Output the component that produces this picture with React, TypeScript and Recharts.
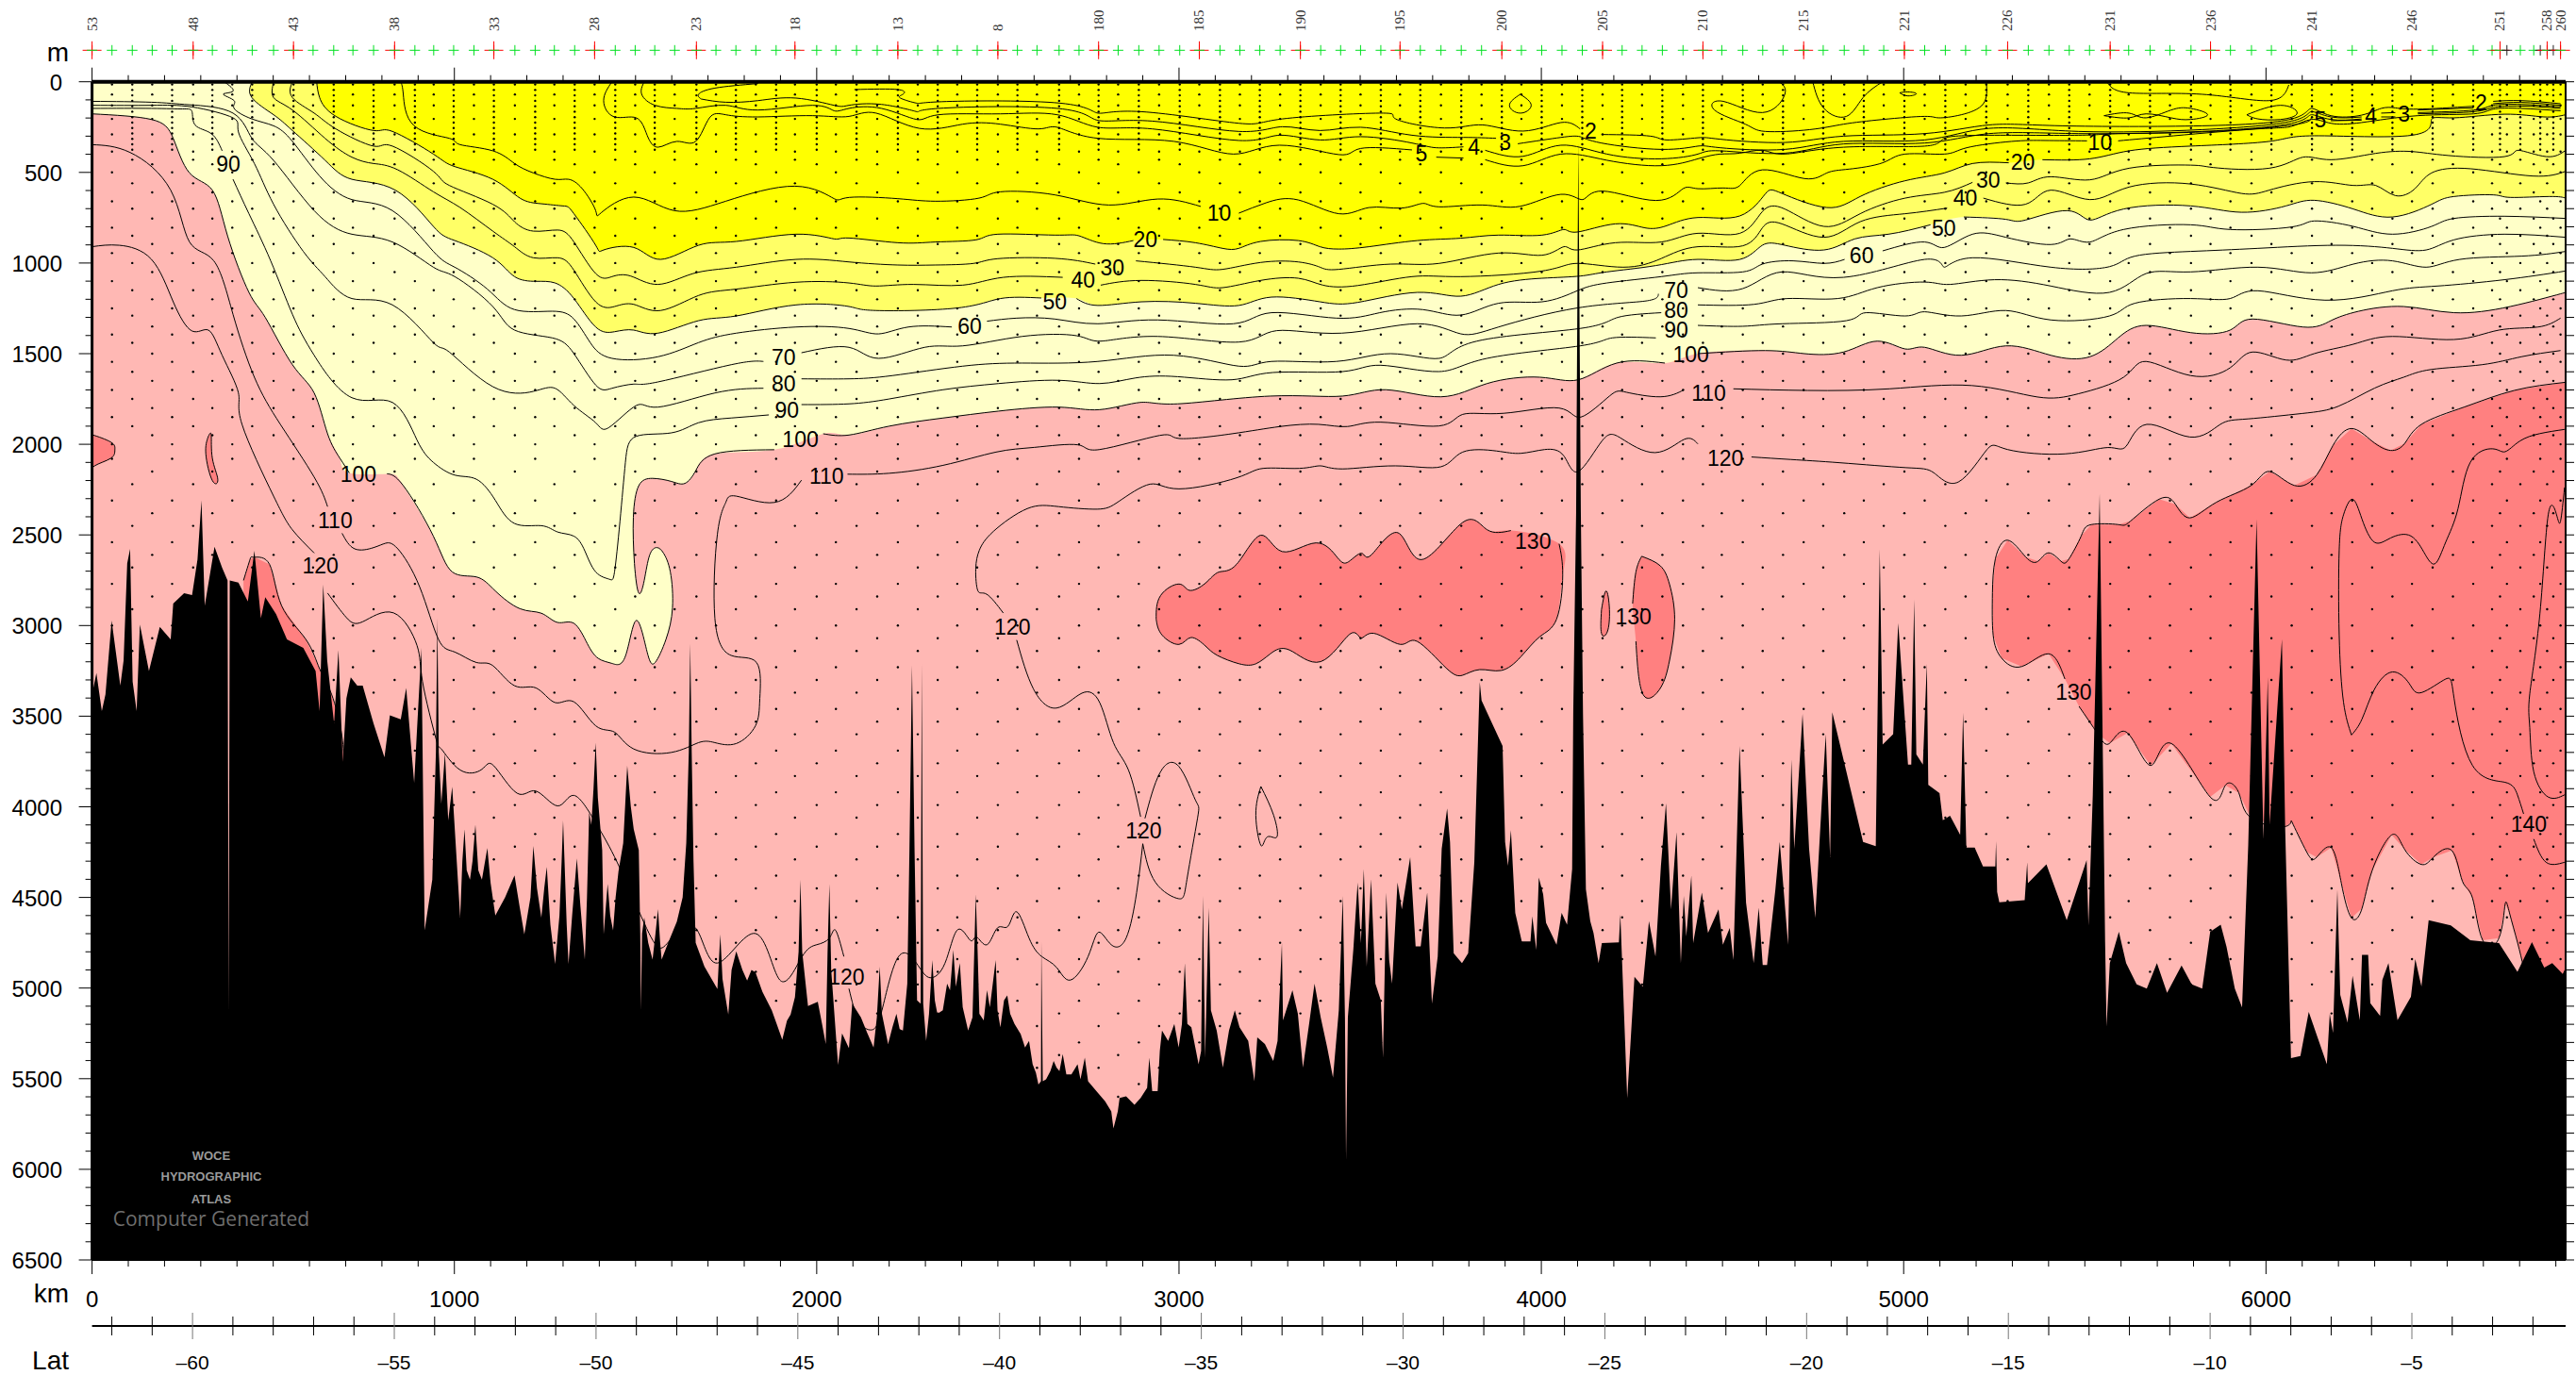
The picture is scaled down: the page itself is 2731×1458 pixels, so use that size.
import React from 'react';
import { ComposedChart, Area, Line, Scatter, XAxis, YAxis } from 'recharts';

type Pt = [number, number | null];

const KM_MAX = 6827;
const DEPTH_MAX = 6500;
const BASE_FONT = 'Liberation Sans';

const PINK = '#FFB8B4';
const SALMON = '#FF8080';
const PALE = '#FFFFC8';
const MEDIUM = '#FFFF66';
const BRIGHT = '#FFFF00';

const kmTicks = [0,100,200,300,400,500,600,700,800,900,1000,1100,1200,1300,1400,1500,1600,1700,1800,1900,2000,2100,2200,2300,2400,2500,2600,2700,2800,2900,3000,3100,3200,3300,3400,3500,3600,3700,3800,3900,4000,4100,4200,4300,4400,4500,4600,4700,4800,4900,5000,5100,5200,5300,5400,5500,5600,5700,5800,5900,6000,6100,6200,6300,6400,6500,6600,6700,6800];
const depthTicks = [0,100,200,300,400,500,600,700,800,900,1000,1100,1200,1300,1400,1500,1600,1700,1800,1900,2000,2100,2200,2300,2400,2500,2600,2700,2800,2900,3000,3100,3200,3300,3400,3500,3600,3700,3800,3900,4000,4100,4200,4300,4400,4500,4600,4700,4800,4900,5000,5100,5200,5300,5400,5500,5600,5700,5800,5900,6000,6100,6200,6300,6400,6500];
const latTicks = [-62,-61,-60,-59,-58,-57,-56,-55,-54,-53,-52,-51,-50,-49,-48,-47,-46,-45,-44,-43,-42,-41,-40,-39,-38,-37,-36,-35,-34,-33,-32,-31,-30,-29,-28,-27,-26,-25,-24,-23,-22,-21,-20,-19,-18,-17,-16,-15,-14,-13,-12,-11,-10,-9,-8,-7,-6,-5,-4,-3,-2];

const stationKm = [0,55,111,166,221,279,332,387,442,501,556,610,667,720,777,835,891,943,998,1054,1109,1167,1223,1276,1332,1387,1444,1499,1553,1608,1668,1722,1777,1832,1888,1940,2000,2053,2110,2167,2224,2279,2334,2388,2443,2500,2554,2608,2669,2724,2778,2832,2889,2945,3002,3056,3113,3168,3223,3279,3335,3391,3446,3501,3557,3610,3666,3723,3779,3835,3891,3945,4001,4057,4113,4169,4223,4278,4334,4391,4446,4498,4556,4611,4667,4724,4778,4836,4890,4945,5002,5058,5115,5171,5228,5287,5344,5401,5457,5513,5570,5621,5680,5735,5793,5847,5902,5960,6015,6071,6127,6181,6238,6293,6349,6403,6460,6516,6572,6624,6646,6665,6702,6739,6757,6776,6793,6813];
const stationLabels: Record<number, string> = {0:'53',279:'48',556:'43',835:'38',1109:'33',1387:'28',1668:'23',1940:'18',2224:'13',2500:'8',2778:'180',3056:'185',3335:'190',3610:'195',3891:'200',4169:'205',4446:'210',4724:'215',5002:'221',5287:'226',5570:'231',5847:'236',6127:'241',6403:'246',6646:'251',6776:'258',6813:'260'};
const blackStations = [6665, 6757, 6793];

// bottle depths, staggered between neighbouring stations
const shallowA = [15,45,75,105,135,165,195,225,255,285,315,345,375];
const shallowB = [15,70,130,205,290,385];
const midA = [455,610,755,895,1050,1200,1350,1500,1650,1800,1950];
const midB = [500,660,805,945,1100,1250,1395,1545,1700,1850,2000];
const midC = [430,560,700,850,1000,1150,1290,1440,1600,1750,1900];
const deepA = [2150,2380,2610,2840,3070,3300,3530,3760,3990,4220,4450,4680,4910,5140,5370,5600];
const deepB = [2080,2310,2540,2770,3000,3230,3460,3690,3920,4150,4380,4610,4840,5070,5300,5530];
const deepC = [2220,2450,2680,2910,3140,3370,3600,3830,4060,4290,4520,4750,4980,5210,5440,5670];

const bathymetry: Pt[] = [[0,3379],[12,3262],[27,3472],[37,3379],[54,2972],[78,3332],[87,3193],[97,2658],[105,2577],[112,3309],[123,3472],[132,2995],[157,3251],[187,3007],[217,3076],[224,2879],[254,2821],[276,2832],[291,2635],[302,2309],[311,2890],[338,2565],[359,2681],[374,2751],[377,5122],[380,2751],[404,2763],[430,2867],[448,2588],[466,2960],[478,2844],[508,2937],[538,3076],[583,3123],[617,3251],[628,3472],[638,2774],[649,3193],[668,3541],[680,3135],[692,3751],[702,3402],[714,3286],[732,3332],[747,3332],[777,3541],[807,3727],[822,3495],[852,3518],[867,3344],[889,3867],[909,3123],[918,4681],[939,4402],[949,3700],[953,2960],[957,3700],[964,3983],[974,3704],[983,4076],[994,3890],[1016,4611],[1022,4300],[1028,4123],[1034,4350],[1043,4402],[1050,4300],[1058,4099],[1066,4350],[1076,4402],[1083,4320],[1091,4227],[1100,4420],[1113,4599],[1140,4500],[1166,4378],[1180,4550],[1193,4704],[1210,4500],[1218,4216],[1228,4450],[1240,4611],[1248,4450],[1255,4332],[1265,4650],[1278,4867],[1290,4600],[1296,4300],[1300,4076],[1304,4300],[1310,4650],[1315,4867],[1325,4600],[1338,4285],[1348,4550],[1360,4843],[1366,4500],[1372,4030],[1378,4100],[1384,3900],[1390,3646],[1396,3950],[1408,4239],[1412,4704],[1423,4425],[1430,4600],[1438,4681],[1445,4500],[1453,4355],[1466,4200],[1477,3774],[1487,4000],[1495,4123],[1509,4239],[1513,4700],[1515,5122],[1518,4700],[1524,4611],[1535,4750],[1547,4843],[1555,4700],[1562,4565],[1568,4750],[1572,4843],[1590,4750],[1614,4634],[1630,4500],[1640,4200],[1647,3700],[1651,3100],[1655,3700],[1660,4300],[1666,4750],[1690,4880],[1726,5006],[1730,4850],[1734,4704],[1740,4950],[1756,5146],[1765,4900],[1778,4797],[1795,4900],[1808,4959],[1820,4900],[1831,4913],[1850,5020],[1876,5122],[1890,5200],[1905,5285],[1918,5180],[1928,5146],[1940,5050],[1950,4800],[1955,4402],[1960,4800],[1976,5099],[2003,5076],[2015,5200],[2025,5308],[2030,4800],[2035,4425],[2040,4900],[2059,5424],[2070,5250],[2089,5332],[2098,5086],[2122,5161],[2140,5250],[2157,5328],[2166,5161],[2174,4882],[2180,5142],[2197,5309],[2209,5216],[2220,5142],[2229,5226],[2238,5235],[2250,4975],[2256,4232],[2263,3219],[2270,4232],[2277,5068],[2287,5086],[2290,3210],[2294,5086],[2302,5291],[2310,5142],[2319,4845],[2326,5068],[2333,5142],[2348,5123],[2360,4975],[2368,5012],[2377,4789],[2384,4993],[2395,4863],[2403,5105],[2418,5235],[2430,5161],[2435,4789],[2439,4482],[2444,4789],[2449,5142],[2461,5179],[2470,5012],[2478,5105],[2494,4845],[2499,5123],[2507,5216],[2517,5068],[2526,5040],[2534,5142],[2546,5198],[2563,5254],[2575,5328],[2586,5291],[2596,5421],[2605,5467],[2612,5532],[2619,5514],[2620,4743],[2624,5514],[2633,5504],[2645,5458],[2654,5402],[2662,5439],[2670,5458],[2679,5365],[2689,5476],[2703,5476],[2720,5421],[2728,5504],[2740,5384],[2749,5514],[2772,5569],[2796,5625],[2813,5681],[2819,5774],[2831,5681],[2836,5607],[2854,5597],[2877,5644],[2894,5607],[2912,5551],[2918,5384],[2926,5569],[2941,5569],[2947,5346],[2953,5235],[2970,5291],[2987,5198],[2999,5328],[3008,5198],[3016,4863],[3023,5198],[3034,5216],[3045,5328],[3054,5421],[3061,5346],[3066,4492],[3072,5384],[3082,4557],[3088,5123],[3104,5235],[3121,5439],[3138,5235],[3154,5123],[3167,5216],[3191,5291],[3208,5514],[3216,5272],[3237,5309],[3260,5402],[3272,5291],[3284,4752],[3287,5179],[3313,5012],[3328,5142],[3342,5439],[3359,5198],[3374,4975],[3391,5161],[3409,5328],[3425,5495],[3441,5123],[3452,4492],[3458,5161],[3461,5945],[3466,5161],[3481,4789],[3493,4417],[3502,4752],[3510,4343],[3518,4882],[3530,4399],[3542,4975],[3557,5068],[3563,5384],[3572,4473],[3580,4845],[3588,4975],[3603,4417],[3615,4566],[3638,4278],[3653,4770],[3667,4770],[3685,4473],[3698,5086],[3714,4826],[3725,4232],[3740,4009],[3748,4194],[3758,4808],[3781,4863],[3798,4808],[3815,4306],[3830,3312],[3835,3414],[3893,3665],[3900,4194],[3908,4325],[3916,4129],[3928,4585],[3946,4743],[3970,4743],[3975,4603],[3986,4789],[3993,4390],[4005,4482],[4013,4640],[4042,4761],[4056,4585],[4071,4650],[4085,4343],[4088,3488],[4096,2374],[4102,330],[4109,2374],[4115,3488],[4123,4455],[4135,4631],[4144,4696],[4158,4863],[4167,4752],[4214,4748],[4218,4594],[4237,5607],[4257,4938],[4280,4993],[4297,4631],[4315,4826],[4330,4325],[4344,3981],[4358,4566],[4373,4139],[4385,4863],[4393,4492],[4400,4715],[4414,4380],[4419,4752],[4443,4473],[4460,4696],[4489,4566],[4501,4761],[4520,4668],[4530,4845],[4547,3665],[4565,4529],[4586,4863],[4600,4557],[4611,4873],[4623,4873],[4646,4455],[4658,4194],[4681,4761],[4690,3739],[4698,4232],[4721,3488],[4739,4232],[4756,4612],[4774,3971],[4785,3600],[4797,4278],[4803,3479],[4888,4194],[4923,4217],[4934,2578],[4942,3656],[4971,3600],[4985,2987],[5012,3767],[5021,3767],[5029,2857],[5035,3711],[5053,3767],[5064,3210],[5068,3879],[5099,3925],[5108,4074],[5128,4050],[5156,4155],[5164,3481],[5173,4225],[5196,4225],[5219,4329],[5253,4329],[5255,4190],[5258,4469],[5264,4527],[5334,4515],[5341,4306],[5343,4422],[5394,4318],[5450,4626],[5505,4294],[5510,4654],[5522,3934],[5541,2273],[5556,4747],[5560,5212],[5569,4863],[5594,4689],[5614,4863],[5643,4980],[5671,5003],[5699,4863],[5727,5026],[5767,4875],[5795,4980],[5824,5003],[5846,4689],[5875,4650],[5891,4771],[5914,5003],[5934,5107],[5951,4213],[5974,2413],[5993,4178],[6005,3284],[6010,4097],[6044,3075],[6053,4120],[6069,5386],[6095,5375],[6118,5131],[6168,5421],[6176,5142],[6185,5247],[6197,4457],[6205,5038],[6225,5189],[6239,4933],[6259,5177],[6265,4817],[6282,4817],[6288,5084],[6315,5154],[6321,4956],[6338,4863],[6363,5177],[6400,5049],[6412,4840],[6429,4991],[6449,4626],[6510,4654],[6564,4736],[6643,4752],[6694,4910],[6711,4840],[6734,4747],[6768,4887],[6790,4863],[6819,4922],[6827,4887]];

const c2: Pt[] = [[1838,10],[1719,35],[1674,69],[1681,95],[1700,null],[2104,43],[2224,43],[2238,69],[2231,90],[2276,118],[2358,109],[2672,118],[2776,173],[2896,165],[3165,229],[3285,205],[3554,173],[3598,205],[3733,255],[3838,238],[3950,272],[4054,225],[4107,260],[4136,null],[4166,291],[4301,300],[4346,321],[4432,309],[4494,317],[4672,335],[4834,300],[5058,286],[5236,238],[5437,243],[5823,243],[6071,205],[6125,147],[6179,187],[6264,184],[6318,147],[6357,144],[6419,151],[6573,135],[6600,null],[6627,108],[6705,104],[6813,121]];
const c3: Pt[] = [[1681,95],[1749,113],[1838,104],[1943,90],[2048,130],[2089,130],[2179,125],[2276,165],[2336,147],[2664,147],[2776,213],[2926,217],[3165,274],[3285,248],[3389,269],[3501,251],[3643,295],[3785,307],[3875,312],[3900,null],[3935,342],[4054,307],[4107,303],[4166,338],[4331,373],[4432,355],[4494,364],[4672,373],[4834,329],[5058,321],[5236,257],[5483,274],[5823,264],[6071,217],[6125,165],[6179,194],[6264,194],[6290,null],[6318,173],[6357,170],[6381,null],[6419,156],[6573,144],[6600,null],[6627,121],[6705,114],[6813,130]];
const c4: Pt[] = [[1524,0],[1517,69],[1554,130],[1614,147],[1666,147],[1749,130],[1838,156],[1988,130],[2048,160],[2089,147],[2179,147],[2276,208],[2336,182],[2507,177],[2664,182],[2776,251],[2926,260],[3165,324],[3277,295],[3389,321],[3501,303],[3643,338],[3710,364],[3785,359],[3815,null],[3845,378],[3950,411],[4054,350],[4181,399],[4331,425],[4432,399],[4494,381],[4672,394],[4834,343],[5058,338],[5236,286],[5483,286],[5823,274],[6071,229],[6125,182],[6179,208],[6264,205],[6290,null],[6318,194],[6357,194],[6381,null],[6419,170],[6573,156],[6627,130],[6705,125],[6813,139]];
const c5: Pt[] = [[1435,0],[1412,104],[1442,194],[1502,199],[1532,295],[1562,361],[1614,329],[1666,329],[1704,199],[1749,182],[1838,194],[1988,187],[2089,191],[2164,173],[2283,257],[2403,234],[2507,234],[2612,260],[2664,251],[2776,312],[2986,329],[3150,399],[3277,350],[3441,402],[3501,368],[3643,376],[3669,null],[3710,416],[3785,421],[3815,null],[3845,430],[3950,463],[4054,399],[4181,433],[4331,463],[4432,425],[4494,399],[4548,394],[4610,378],[4672,399],[4834,361],[5058,355],[5112,312],[5236,295],[5483,295],[5592,286],[5823,277],[6071,239],[6125,199],[6150,null],[6179,215],[6264,212],[6290,null],[6419,177],[6573,165],[6627,142],[6705,134],[6813,147]];
const c10: Pt[] = [[852,0],[859,69],[889,243],[986,312],[1016,347],[1106,381],[1166,451],[1218,503],[1278,538],[1315,538],[1353,590],[1390,711],[1405,723],[1495,636],[1607,711],[1749,659],[1940,576],[2048,645],[2090,638],[2224,645],[2328,659],[2448,642],[2507,607],[2657,624],[2806,680],[2941,647],[3060,688],[3110,null],[3165,725],[3240,668],[3329,652],[3441,728],[3524,694],[3613,697],[3673,671],[3718,690],[3838,680],[3942,687],[4054,621],[4114,650],[4169,603],[4316,655],[4391,590],[4432,590],[4502,586],[4548,572],[4610,486],[4726,534],[4788,503],[4849,482],[4942,447],[5004,399],[5112,399],[5174,364],[5298,329],[5390,324],[5506,326],[5545,null],[5592,326],[5746,298],[5978,260],[6071,246],[6125,208],[6179,229],[6264,225],[6419,187],[6573,177],[6627,151],[6705,147],[6813,160]];
const c20: Pt[] = [[620,0],[628,87],[673,191],[777,269],[829,274],[942,399],[1001,468],[1106,538],[1181,642],[1240,673],[1300,685],[1330,728],[1390,902],[1412,928],[1495,914],[1569,980],[1674,902],[1778,881],[1943,841],[2048,867],[2089,862],[2224,888],[2328,884],[2440,872],[2500,841],[2657,846],[2724,850],[2791,893],[2874,876],[2910,null],[2956,870],[3045,888],[3120,919],[3165,919],[3225,881],[3329,876],[3389,910],[3441,923],[3524,910],[3658,876],[3778,863],[3882,846],[4002,846],[4062,815],[4099,829],[4204,784],[4286,806],[4346,794],[4432,749],[4548,740],[4618,619],[4664,616],[4788,694],[4880,633],[5004,546],[5112,503],[5190,451],[5290,447],[5330,null],[5383,430],[5514,425],[5622,381],[5792,355],[6009,329],[6133,298],[6403,295],[6457,208],[6519,199],[6658,179],[6767,194],[6827,182]];
const c30: Pt[] = [[553,0],[553,87],[613,173],[673,260],[777,355],[829,355],[942,494],[986,572],[1106,676],[1166,772],[1218,824],[1285,818],[1330,884],[1390,1058],[1435,1075],[1487,1072],[1562,1118],[1659,1058],[1778,1023],[1943,980],[2089,994],[2224,1011],[2328,1011],[2433,1002],[2500,976],[2657,974],[2769,1006],[2816,null],[2881,988],[3045,1023],[3120,1035],[3225,997],[3329,994],[3389,1023],[3441,1035],[3584,1006],[3718,1002],[3882,945],[4002,957],[4062,910],[4099,928],[4204,888],[4331,884],[4432,836],[4548,836],[4610,716],[4672,702],[4780,798],[4880,728],[5004,642],[5112,610],[5190,555],[5233,null],[5282,558],[5344,558],[5406,524],[5514,541],[5622,477],[5792,460],[5854,473],[6009,477],[6102,416],[6179,430],[6303,395],[6403,385],[6504,407],[6658,413],[6697,378],[6774,413],[6827,378]];
const c40: Pt[] = [[501,0],[501,87],[553,156],[643,312],[717,416],[777,451],[844,486],[942,607],[1016,694],[1106,824],[1166,910],[1218,971],[1285,971],[1330,1040],[1390,1214],[1442,1240],[1495,1228],[1569,1262],[1674,1179],[1778,1144],[1943,1106],[2089,1110],[2164,1127],[2268,1118],[2403,1122],[2515,1079],[2679,1079],[2735,null],[2784,1122],[2896,1096],[3045,1118],[3120,1136],[3225,1096],[3329,1084],[3397,1122],[3494,1124],[3643,1075],[3778,1075],[4002,1044],[4099,1002],[4226,1023],[4331,975],[4432,910],[4556,905],[4610,806],[4664,784],[4780,858],[4880,772],[5004,728],[5120,697],[5170,null],[5220,642],[5336,676],[5406,598],[5514,650],[5622,581],[5792,564],[5932,616],[6009,598],[6133,551],[6241,572],[6303,572],[6357,628],[6411,590],[6457,503],[6565,480],[6736,520],[6827,494]];
const c50: Pt[] = [[442,0],[441,87],[501,182],[553,269],[643,433],[717,538],[837,598],[942,798],[1001,876],[1106,971],[1166,1075],[1225,1101],[1278,1110],[1330,1196],[1390,1353],[1442,1379],[1495,1370],[1562,1387],[1674,1318],[1778,1292],[1943,1231],[2089,1240],[2164,1262],[2388,1248],[2507,1196],[2620,1193],[2657,null],[2717,1196],[2776,1234],[2896,1214],[3045,1222],[3165,1234],[3255,1188],[3389,1214],[3494,1217],[3658,1162],[3778,1183],[3882,1118],[4002,1084],[4107,1072],[4181,1049],[4316,1014],[4432,980],[4548,980],[4610,902],[4672,902],[4780,928],[4865,867],[4958,841],[5074,789],[5111,null],[5166,746],[5282,759],[5336,763],[5452,711],[5514,763],[5607,702],[5792,685],[5932,720],[6055,685],[6133,654],[6241,702],[6349,746],[6457,676],[6519,633],[6627,624],[6674,638],[6782,633],[6827,642]];
const c60: Pt[] = [[365,0],[389,52],[362,69],[392,104],[392,147],[441,205],[501,243],[553,329],[628,520],[717,650],[829,711],[942,936],[1001,1023],[1091,1144],[1166,1257],[1270,1266],[1330,1309],[1375,1439],[1435,1526],[1562,1517],[1674,1439],[1778,1387],[1943,1353],[2089,1361],[2171,1391],[2253,1353],[2373,1353],[2422,null],[2470,1321],[2552,1304],[2657,1309],[2776,1335],[2941,1314],[3150,1335],[3255,1274],[3434,1304],[3554,1274],[3673,1257],[3778,1287],[3882,1222],[4002,1214],[4099,1153],[4181,1110],[4331,1075],[4432,1054],[4556,1049],[4610,1006],[4695,988],[4780,1002],[4837,980],[4884,null],[4942,933],[5058,884],[5112,914],[5190,841],[5282,858],[5406,898],[5460,867],[5514,884],[5607,815],[5792,789],[5901,815],[6071,801],[6133,768],[6241,798],[6349,841],[6457,798],[6519,754],[6658,742],[6827,754]];
const c70: Pt[] = [[0,108],[164,113],[269,127],[389,173],[441,312],[501,434],[613,711],[717,841],[829,884],[942,1023],[1001,1075],[1106,1240],[1166,1370],[1270,1413],[1330,1500],[1390,1673],[1435,1691],[1495,1668],[1562,1656],[1764,1561],[1853,1543],[1909,null],[1958,1495],[2089,1465],[2171,1526],[2298,1465],[2403,1457],[2567,1405],[2717,1401],[2784,1431],[2941,1405],[3165,1436],[3270,1373],[3449,1387],[3658,1335],[3778,1391],[3882,1353],[4099,1248],[4286,1210],[4323,1170],[4372,null],[4432,1136],[4556,1141],[4664,1049],[4834,1079],[5058,980],[5112,1023],[5190,971],[5406,1023],[5568,1020],[5638,962],[5792,936],[5978,919],[6194,902],[6349,919],[6442,928],[6519,872],[6658,841],[6827,858]];
const c80: Pt[] = [[0,130],[164,130],[276,139],[389,199],[404,277],[448,451],[501,676],[583,936],[643,1075],[717,1196],[829,1231],[942,1439],[986,1491],[1106,1682],[1218,1708],[1278,1691],[1330,1786],[1390,1881],[1427,1907],[1502,1786],[1562,1795],[1719,1717],[1853,1691],[1909,null],[1958,1639],[2089,1639],[2209,1621],[2403,1569],[2567,1552],[2776,1543],[2986,1509],[3165,1569],[3255,1543],[3434,1543],[3584,1500],[3718,1526],[3822,1431],[4107,1361],[4211,1300],[4331,1274],[4372,null],[4432,1231],[4587,1228],[4679,1196],[4818,1196],[4927,1136],[5058,1105],[5128,1118],[5251,1092],[5406,1127],[5568,1162],[5669,1058],[5792,1049],[5978,1023],[6125,1054],[6241,1006],[6349,988],[6442,1023],[6535,980],[6705,962],[6827,936]];
const c90: Pt[] = [[0,147],[164,147],[250,150],[276,165],[285,240],[329,286],[359,381],[376,null],[389,538],[433,728],[493,988],[553,1283],[613,1509],[717,1743],[829,1769],[897,1977],[942,2100],[1001,2170],[1061,2193],[1113,2309],[1166,2437],[1240,2449],[1285,2484],[1330,2507],[1360,2588],[1390,2704],[1427,2744],[1442,2704],[1457,2425],[1472,2100],[1502,1956],[1599,1937],[1674,1881],[1764,1855],[1868,1838],[1918,null],[1958,1781],[2089,1777],[2200,1750],[2349,1699],[2502,1665],[2668,1647],[2781,1665],[2880,1634],[2996,1627],[3146,1644],[3259,1604],[3451,1599],[3557,1564],[3717,1599],[3850,1526],[4107,1457],[4196,1413],[4316,1413],[4372,null],[4432,1344],[4556,1349],[4664,1335],[4842,1318],[4896,1274],[5004,1292],[5058,1269],[5159,1292],[5282,1262],[5406,1314],[5568,1292],[5638,1222],[5792,1196],[5901,1196],[5978,1153],[6163,1205],[6349,1153],[6473,1127],[6658,1092],[6827,1044]];
const c100: Pt[] = [[0,177],[164,208],[224,312],[269,503],[332,598],[374,850],[433,1162],[478,1300],[553,1561],[613,1717],[650,1942],[684,2077],[710,2158],[735,null],[814,2163],[859,2228],[942,2507],[994,2704],[1061,2732],[1113,2809],[1181,2907],[1240,2932],[1285,2983],[1330,2988],[1367,3100],[1397,3181],[1435,3209],[1472,3169],[1502,2972],[1532,3146],[1554,3204],[1584,3076],[1602,2902],[1596,2704],[1577,2600],[1559,2570],[1539,2611],[1524,2751],[1509,2821],[1497,2658],[1494,2402],[1509,2228],[1547,2188],[1599,2205],[1636,2216],[1666,2146],[1719,2053],[1883,2030],[1955,null],[2018,1942],[2089,1949],[2200,1900],[2349,1855],[2502,1817],[2668,1795],[2781,1809],[2893,1769],[2996,1777],[3252,1734],[3451,1734],[3571,1699],[3723,1738],[3850,1665],[3996,1630],[4102,1644],[4208,1552],[4341,1552],[4390,null],[4432,1500],[4618,1483],[4726,1500],[4834,1491],[4927,1431],[5004,1474],[5058,1465],[5159,1509],[5282,1457],[5406,1509],[5514,1517],[5592,1413],[5669,1344],[5792,1384],[5901,1370],[5963,1309],[6102,1353],[6179,1318],[6256,1266],[6380,1240],[6519,1274],[6674,1240],[6813,1170],[6827,1165]];
const c110: Pt[] = [[0,347],[105,390],[217,598],[269,884],[336,988],[389,1283],[448,1630],[520,1891],[613,2181],[650,2344],[671,null],[690,2491],[725,2577],[777,2570],[810,2546],[844,2577],[904,2786],[956,3076],[1001,3146],[1061,3204],[1106,3221],[1166,3332],[1225,3344],[1278,3425],[1330,3421],[1390,3553],[1442,3588],[1495,3681],[1599,3700],[1674,3646],[1719,3646],[1778,3651],[1831,3553],[1843,3402],[1834,3204],[1764,3165],[1719,2960],[1726,2495],[1749,2321],[1778,2286],[1883,2321],[1958,2198],[2027,null],[2085,2165],[2200,2160],[2349,2116],[2495,2043],[2601,2017],[2721,2003],[2781,2029],[2947,1951],[3000,1968],[3146,1942],[3279,1902],[3385,1890],[3465,1902],[3557,1878],[3717,1899],[3783,1835],[3896,1829],[4049,1800],[4109,1850],[4188,1734],[4235,1713],[4328,1738],[4394,1699],[4462,null],[4530,1694],[4735,1703],[4961,1694],[5188,1676],[5369,1739],[5483,1721],[5607,1630],[5669,1543],[5792,1621],[5901,1578],[5963,1491],[6055,1535],[6133,1500],[6241,1448],[6349,1405],[6519,1422],[6643,1370],[6751,1353],[6813,1304]];
const c120: Pt[] = [[0,910],[75,902],[164,980],[224,1214],[276,1375],[321,1370],[359,1509],[404,1717],[414,1891],[501,2286],[553,2472],[613,2600],[630,null],[650,2821],[702,2956],[747,2979],[832,2930],[897,3111],[912,3309],[949,3623],[964,3681],[1016,3797],[1076,3793],[1109,3774],[1173,3925],[1225,3913],[1285,3995],[1330,3937],[1390,4088],[1450,4309],[1517,4611],[1562,4774],[1599,4727],[1666,4669],[1726,4862],[1831,4699],[1898,4955],[1958,4832],[2000,4761],[2035,4724],[2052,4681],[2075,4826],[2082,null],[2089,5003],[2116,5179],[2151,5231],[2180,5123],[2226,4826],[2279,4873],[2313,4943],[2354,4863],[2389,4678],[2424,4737],[2441,4718],[2470,4761],[2499,4668],[2528,4659],[2552,4579],[2586,4724],[2621,4826],[2662,4886],[2700,4956],[2749,4826],[2778,4692],[2813,4761],[2854,4724],[2883,4473],[2900,4204],[2901,null],[2894,4055],[2860,3795],[2819,3646],[2782,3429],[2732,3373],[2662,3455],[2598,3349],[2552,3080],[2540,null],[2515,2931],[2469,2827],[2445,2809],[2439,2688],[2449,2584],[2488,2480],[2581,2355],[2668,2344],[2774,2358],[2834,2315],[2920,2220],[3000,2246],[3159,2185],[3232,2133],[3332,2133],[3391,2119],[3451,2136],[3597,2119],[3723,2124],[3783,2043],[3876,2037],[3943,2050],[4009,2029],[4062,2064],[4102,2150],[4168,1980],[4221,1968],[4314,2046],[4394,1973],[4432,1998],[4508,null],[4580,2070],[4689,2084],[4825,2102],[5007,2129],[5083,2157],[5151,2208],[5230,2029],[5287,2029],[5445,2053],[5564,2018],[5614,2011],[5671,1890],[5790,1960],[5874,1890],[5950,1860],[6100,1830],[6200,1790],[6300,1690],[6380,1630],[6457,1587],[6596,1561],[6705,1517],[6813,1483]];
const c120Lobe: Pt[] = [[2900,4204],[2935,4417],[2999,4507],[3022,4399],[3051,4064],[3045,3962],[2999,3776],[2947,3814],[2906,4064]];
const c120Small: Pt[] = [[3226,3888],[3212,4046],[3226,4213],[3243,4167],[3270,4167],[3261,4046],[3226,3888]];

const deepUpper: Pt[] = [[5245,2819],[5253,2633],[5287,2529],[5337,2622],[5371,2645],[5400,2599],[5434,2645],[5456,2633],[5490,2506],[5518,2443],[5592,2443],[5626,2424],[5705,2303],[5750,2331],[5790,2406],[5863,2320],[5959,2227],[6010,2150],[6078,2227],[6140,2169],[6185,2006],[6236,1913],[6293,1983],[6344,2034],[6383,1995],[6429,1890],[6548,1794],[6685,1703],[6827,1658]];
const deepEdge: Pt[] = [[6827,5200],[6711,5200]];
const deepLower: Pt[] = [[6711,4887],[6694,4747],[6672,4585],[6660,4538],[6643,4724],[6598,4736],[6570,4503],[6542,4410],[6513,4241],[6462,4278],[6429,4318],[6383,4236],[6347,4155],[6293,4352],[6265,4561],[6236,4613],[6208,4422],[6180,4225],[6140,4278],[6112,4248],[6072,4085],[6055,4108],[5959,4062],[5925,3923],[5888,3881],[5846,3946],[5739,3651],[5682,3772],[5618,3593],[5569,3649],[5535,3597],[5484,3446],[5469,null],[5445,3295],[5400,3156],[5326,3226],[5270,3179],[5247,3052],[5245,2819]];
const blobMain: Pt[] = [[2937,2965],[2949,2835],[3000,2771],[3029,2806],[3073,2766],[3110,2705],[3159,2662],[3225,2502],[3285,2592],[3378,2544],[3438,2627],[3468,2648],[3504,2601],[3531,2610],[3604,2488],[3670,2636],[3783,2431],[3850,2471],[3916,2476],[3977,null],[4049,2549],[4059,2722],[4042,2965],[3996,3061],[3943,3173],[3889,3248],[3830,3243],[3783,3274],[3737,3234],[3657,3087],[3611,3104],[3538,3043],[3502,3069],[3471,3048],[3391,3199],[3305,3135],[3252,3156],[3212,3211],[3166,3211],[3106,3165],[3073,3113],[3033,3066],[3000,3104],[2953,3052],[2937,2965]];
const blobNarrow: Pt[] = [[4166,2913],[4179,2809],[4188,2913],[4182,3035],[4166,3043],[4166,2913]];
const blobOval: Pt[] = [[4277,2618],[4328,2670],[4354,2774],[4368,2965],[4354,3191],[4328,3347],[4281,3381],[4261,3087],[4258,null],[4252,2879],[4261,2705],[4277,2618]];
const blobWest: Pt[] = [[0,1949],[3,1949],[52,1988],[63,2030],[52,2077],[7,2119],[0,2119],[0,1949]];
const blobThin: Pt[] = [[321,1956],[329,1949],[332,2077],[347,2193],[332,2200],[314,2053],[321,1956]];
const blobRidge: Pt[] = [[418,2751],[436,2635],[448,2623],[490,2663],[523,2890],[590,3076],[628,3239],[661,3379],[688,3588],[695,3751],[643,3751],[418,3751],[418,2751]];

const inner140a: Pt[] = [[6236,3604],[6214,3423],[6202,3051],[6202,2587],[6214,2389],[6239,2303],[6265,2413],[6299,2540],[6344,2517],[6400,2506],[6440,2610],[6468,2657],[6496,2540],[6530,2355],[6564,2099],[6626,2025],[6660,2041],[6700,1983],[6756,1941],[6824,1918]];
const inner140b: Pt[] = [[6236,3604],[6265,3516],[6299,3353],[6349,3256],[6395,3319],[6429,3370],[6496,3295],[6519,3400],[6570,3772],[6660,3865],[6694,3934],[6711,4039],[6725,null],[6739,4178],[6773,4306],[6824,4306]];
const inner140c: Pt[] = [[6824,2238],[6813,2424],[6802,2389],[6779,2389],[6756,2935],[6728,3377],[6728,3563],[6739,3806],[6779,3946],[6824,3934]];

const wiggleA: Pt[] = [[4656,0],[4672,69],[4610,170],[4502,108],[4478,156],[4563,234],[4618,274],[4741,264],[4834,234],[4942,208],[5058,191],[5097,199],[5159,182],[5220,121],[5228,0]];
const wiggleB: Pt[] = [[4749,0],[4780,147],[4842,191],[4888,87],[4942,0]];
const wiggleC: Pt[] = [[5561,0],[5622,61],[5823,69],[6009,104],[6063,17]];
const loopA: Pt[] = [[5553,187],[5622,173],[5669,199],[5738,156],[5792,147],[5839,182],[5792,208],[5738,199],[5669,177],[5622,199],[5553,187]];
const loopB: Pt[] = [[5947,182],[6040,130],[6086,173],[6040,208],[5978,205],[5947,182]];
const loopC: Pt[] = [[3942,69],[3972,130],[3942,173],[3912,130],[3942,69]];
const loopD: Pt[] = [[4989,61],[5012,56],[5035,66],[5012,78],[4989,61]];

const contourLabels: [number, number, string][] = [[376,453,'90'],[735,2165,'100'],[671,2419,'110'],[630,2673,'120'],[1909,1522,'70'],[1909,1667,'80'],[1918,1812,'90'],[1955,1975,'100'],[2027,2174,'110'],[2422,1350,'60'],[2657,1214,'50'],[2735,1096,'40'],[2816,1024,'30'],[2907,870,'20'],[3111,725,'10'],[3669,399,'5'],[3814,362,'4'],[3900,335,'3'],[4136,272,'2'],[4372,1151,'70'],[4372,1259,'80'],[4372,1368,'90'],[4413,1504,'100'],[4462,1721,'110'],[4508,2075,'120'],[4884,960,'60'],[5111,806,'50'],[5170,643,'40'],[5233,544,'30'],[5329,444,'20'],[5542,335,'10'],[6150,208,'5'],[6290,190,'4'],[6381,181,'3'],[6594,118,'2'],[2540,3008,'120'],[2902,4131,'120'],[2082,4938,'120'],[3977,2537,'130'],[4254,2954,'130'],[5469,3370,'130'],[6725,4095,'140']];
const logoLabels: [number, number, string, number, string, string][] = [[329,5948,'WOCE',13,'bold','Liberation Sans'],[329,6063,'HYDROGRAPHIC',13,'bold','Liberation Sans'],[329,6188,'ATLAS',13,'bold','Liberation Sans'],[329,6313,'Computer Generated',21,'normal','Open Sans']];

const toRows = (pts: Pt[]) => pts.map(([km, m]) => ({ km, m }));
const solid = (pts: Pt[]) => toRows(pts.filter((p) => p[1] !== null));

const fills: [Pt[], string, 'linear' | 'natural'][] = [
  [[...deepUpper, ...deepEdge, ...deepLower], SALMON, 'linear'],
  [blobMain, SALMON, 'natural'],
  [blobNarrow, SALMON, 'natural'],
  [blobOval, SALMON, 'natural'],
  [blobWest, SALMON, 'natural'],
  [blobThin, SALMON, 'natural'],
  [blobRidge, SALMON, 'linear'],
  [c100, PALE, 'natural'],
  [c50, MEDIUM, 'natural'],
  [c20, BRIGHT, 'natural'],
];
const contours: Pt[][] = [c2,c3,c4,c5,c10,c20,c30,c40,c50,c60,c70,c80,c90,c100,c110,c120,c120Lobe,c120Small,deepUpper,deepLower,blobMain,blobNarrow,blobOval,blobWest,blobThin,blobRidge.slice(0,10),inner140a,inner140b,inner140c,wiggleA,wiggleB,wiggleC,loopA,loopB,loopC,loopD];

const shallowSets = [shallowA, shallowB];
const midSets = [midA, midB, midC];
const deepSets = [deepA, deepB, deepC];
const bottles = stationKm.flatMap((km, i) =>
  [...shallowSets[i % 2], ...midSets[i % 3], ...deepSets[i % 3]].map((m) => ({ km, m })),
);

const DepthTick = ({ x, y, payload }: any) => {
  const major = payload.value % 500 === 0;
  return (
    <g>
      <path d={`M${x} ${y}H${x - (major ? 14 : 7)}`} stroke="#000" strokeWidth={1} fill="none" />
      {major && (
        <text x={66} y={y + 9} textAnchor="end" fontFamily={BASE_FONT} fontSize={24} fill="#000">
          {payload.value}
        </text>
      )}
    </g>
  );
};
const RightTick = ({ x, y }: any) => <path d={`M${x} ${y}h9`} stroke="#000" strokeWidth={1} fill="none" />;
const KmTick = ({ x, y, payload }: any) => {
  const major = payload.value % 1000 === 0;
  return (
    <g>
      <path d={`M${x} ${y}v${major ? 15 : 7}`} stroke="#000" strokeWidth={1} fill="none" />
      {major && (
        <text x={x} y={y + 50} textAnchor="middle" fontFamily={BASE_FONT} fontSize={24} fill="#000">
          {payload.value}
        </text>
      )}
    </g>
  );
};
const KmTopTick = ({ x, y, payload }: any) => (
  <path d={`M${x} ${y}v${payload.value % 1000 === 0 ? -15 : -7}`} stroke="#000" strokeWidth={1} fill="none" />
);
const LatTick = ({ x, y, payload }: any) => {
  const major = payload.value % 5 === 0;
  const half = major ? 14 : 10;
  return (
    <g>
      <path d={`M${x} ${y - half}v${half * 2}`} stroke={major ? '#777' : '#000'} strokeWidth={1} fill="none" />
      {major && (
        <text x={x} y={y + 46} textAnchor="middle" fontFamily={BASE_FONT} fontSize={21} fill="#000">
          {`\u2013${Math.abs(payload.value)}`}
        </text>
      )}
    </g>
  );
};
const StationTick = ({ x, y, payload }: any) => {
  const label = stationLabels[payload.value];
  const cy = y - 6.7;
  const color = blackStations.includes(payload.value) ? '#222' : '#00E020';
  return (
    <g>
      {label !== undefined && (
        <path d={`M${x} ${cy - 9.5}v19M${x - 10} ${cy}h20`} stroke="#F00" strokeWidth={1} fill="none" />
      )}
      <path d={`M${x} ${cy - 5.5}v11`} stroke={label ? '#F00' : color} strokeWidth={1} fill="none" />
      <path d={`M${x - 5.5} ${cy}h11`} stroke={color} strokeWidth={1} fill="none" />
      {label !== undefined && (
        <text transform={`translate(${x + 5},33) rotate(-90)`} fontFamily="Liberation Serif" fontSize={15} fill="#333">
          {label}
        </text>
      )}
    </g>
  );
};

const Dot = ({ cx, cy }: any) => <circle cx={cx} cy={cy} r={1.2} fill="#000" />;
const ContourLabel = ({ cx, cy, payload }: any) => (
  <text x={cx} y={cy + 8} textAnchor="middle" fontFamily={BASE_FONT} fontSize={23} fill="#000">
    {payload.text}
  </text>
);
const LogoLabel = ({ cx, cy, payload }: any) => (
  <text
    x={cx}
    y={cy}
    textAnchor="middle"
    fontFamily={payload.font}
    fontSize={payload.size}
    fontWeight={payload.weight}
    fill={payload.size > 20 ? '#6E6E6E' : '#9A9A9A'}
  >
    {payload.text}
  </text>
);

const axisText = { fontFamily: BASE_FONT, fontSize: 28, fill: '#000' };
const tickless = { tickSize: 0, tickMargin: 0, tickLine: false, interval: 0 as const };

export default function App() {
  return (
    <div style={{ position: 'absolute', left: 0, top: 0, width: 2731, height: 1458, background: '#fff' }}>
      <ComposedChart width={2731} height={1458} margin={{ top: 0, right: 0, bottom: 0, left: 0 }}>
        <XAxis
          dataKey="km"
          type="number"
          domain={[0, KM_MAX]}
          allowDataOverflow
          ticks={kmTicks}
          height={70}
          axisLine={{ stroke: '#000', strokeWidth: 2 }}
          tick={(p: any) => <KmTick {...p} />}
          {...tickless}
        />
        <XAxis
          xAxisId="lat"
          dataKey="lat"
          type="number"
          domain={[-62.49, -1.19]}
          allowDataOverflow
          ticks={latTicks}
          height={52}
          axisLine={{ stroke: '#000', strokeWidth: 2 }}
          tick={(p: any) => <LatTick {...p} />}
          {...tickless}
        />
        <XAxis
          xAxisId="kmTop"
          dataKey="km"
          orientation="top"
          type="number"
          domain={[0, KM_MAX]}
          allowDataOverflow
          ticks={kmTicks}
          height={26.7}
          axisLine={{ stroke: '#000', strokeWidth: 4 }}
          tick={(p: any) => <KmTopTick {...p} />}
          {...tickless}
        />
        <XAxis
          xAxisId="stations"
          dataKey="km"
          orientation="top"
          type="number"
          domain={[0, KM_MAX]}
          allowDataOverflow
          ticks={stationKm}
          height={60}
          axisLine={false}
          tick={(p: any) => <StationTick {...p} />}
          {...tickless}
        />
        <YAxis
          dataKey="m"
          type="number"
          reversed
          domain={[0, DEPTH_MAX]}
          allowDataOverflow
          ticks={depthTicks}
          width={97.6}
          axisLine={{ stroke: '#000', strokeWidth: 3 }}
          tick={(p: any) => <DepthTick {...p} />}
          {...tickless}
        />
        <YAxis
          yAxisId="right"
          dataKey="m"
          orientation="right"
          type="number"
          reversed
          domain={[0, DEPTH_MAX]}
          allowDataOverflow
          ticks={depthTicks}
          width={11}
          axisLine={{ stroke: '#000', strokeWidth: 2 }}
          tick={(p: any) => <RightTick {...p} />}
          {...tickless}
        />

        <Area
          data={toRows([[0, DEPTH_MAX], [KM_MAX, DEPTH_MAX]])}
          dataKey="m"
          type="linear"
          stroke="none"
          fill={PINK}
          fillOpacity={1}
          isAnimationActive={false}
        />
        {fills.map(([pts, color, curve], i) => (
          <Area
            key={i}
            data={solid(pts)}
            dataKey="m"
            type={curve}
            stroke="none"
            fill={color}
            fillOpacity={1}
            isAnimationActive={false}
          />
        ))}
        <Scatter data={bottles} shape={Dot} isAnimationActive={false} />
        {contours.map((pts, i) => (
          <Line
            key={i}
            data={toRows(pts)}
            dataKey="m"
            type="natural"
            stroke="#000"
            strokeWidth={1}
            dot={false}
            activeDot={false}
            isAnimationActive={false}
          />
        ))}
        <Area
          data={toRows(bathymetry)}
          dataKey="m"
          type="linear"
          baseValue={DEPTH_MAX}
          stroke="none"
          fill="#000"
          fillOpacity={1}
          isAnimationActive={false}
        />
        <Scatter
          data={contourLabels.map(([km, m, text]) => ({ km, m, text }))}
          shape={ContourLabel}
          isAnimationActive={false}
        />
        <Scatter
          data={logoLabels.map(([km, m, text, size, weight, font]) => ({ km, m, text, size, weight, font }))}
          shape={LogoLabel}
          isAnimationActive={false}
        />
        <text x={73} y={65} textAnchor="end" {...axisText}>m</text>
        <text x={73} y={1381} textAnchor="end" {...axisText}>km</text>
        <text x={73} y={1452} textAnchor="end" {...axisText}>Lat</text>
      </ComposedChart>
    </div>
  );
}
